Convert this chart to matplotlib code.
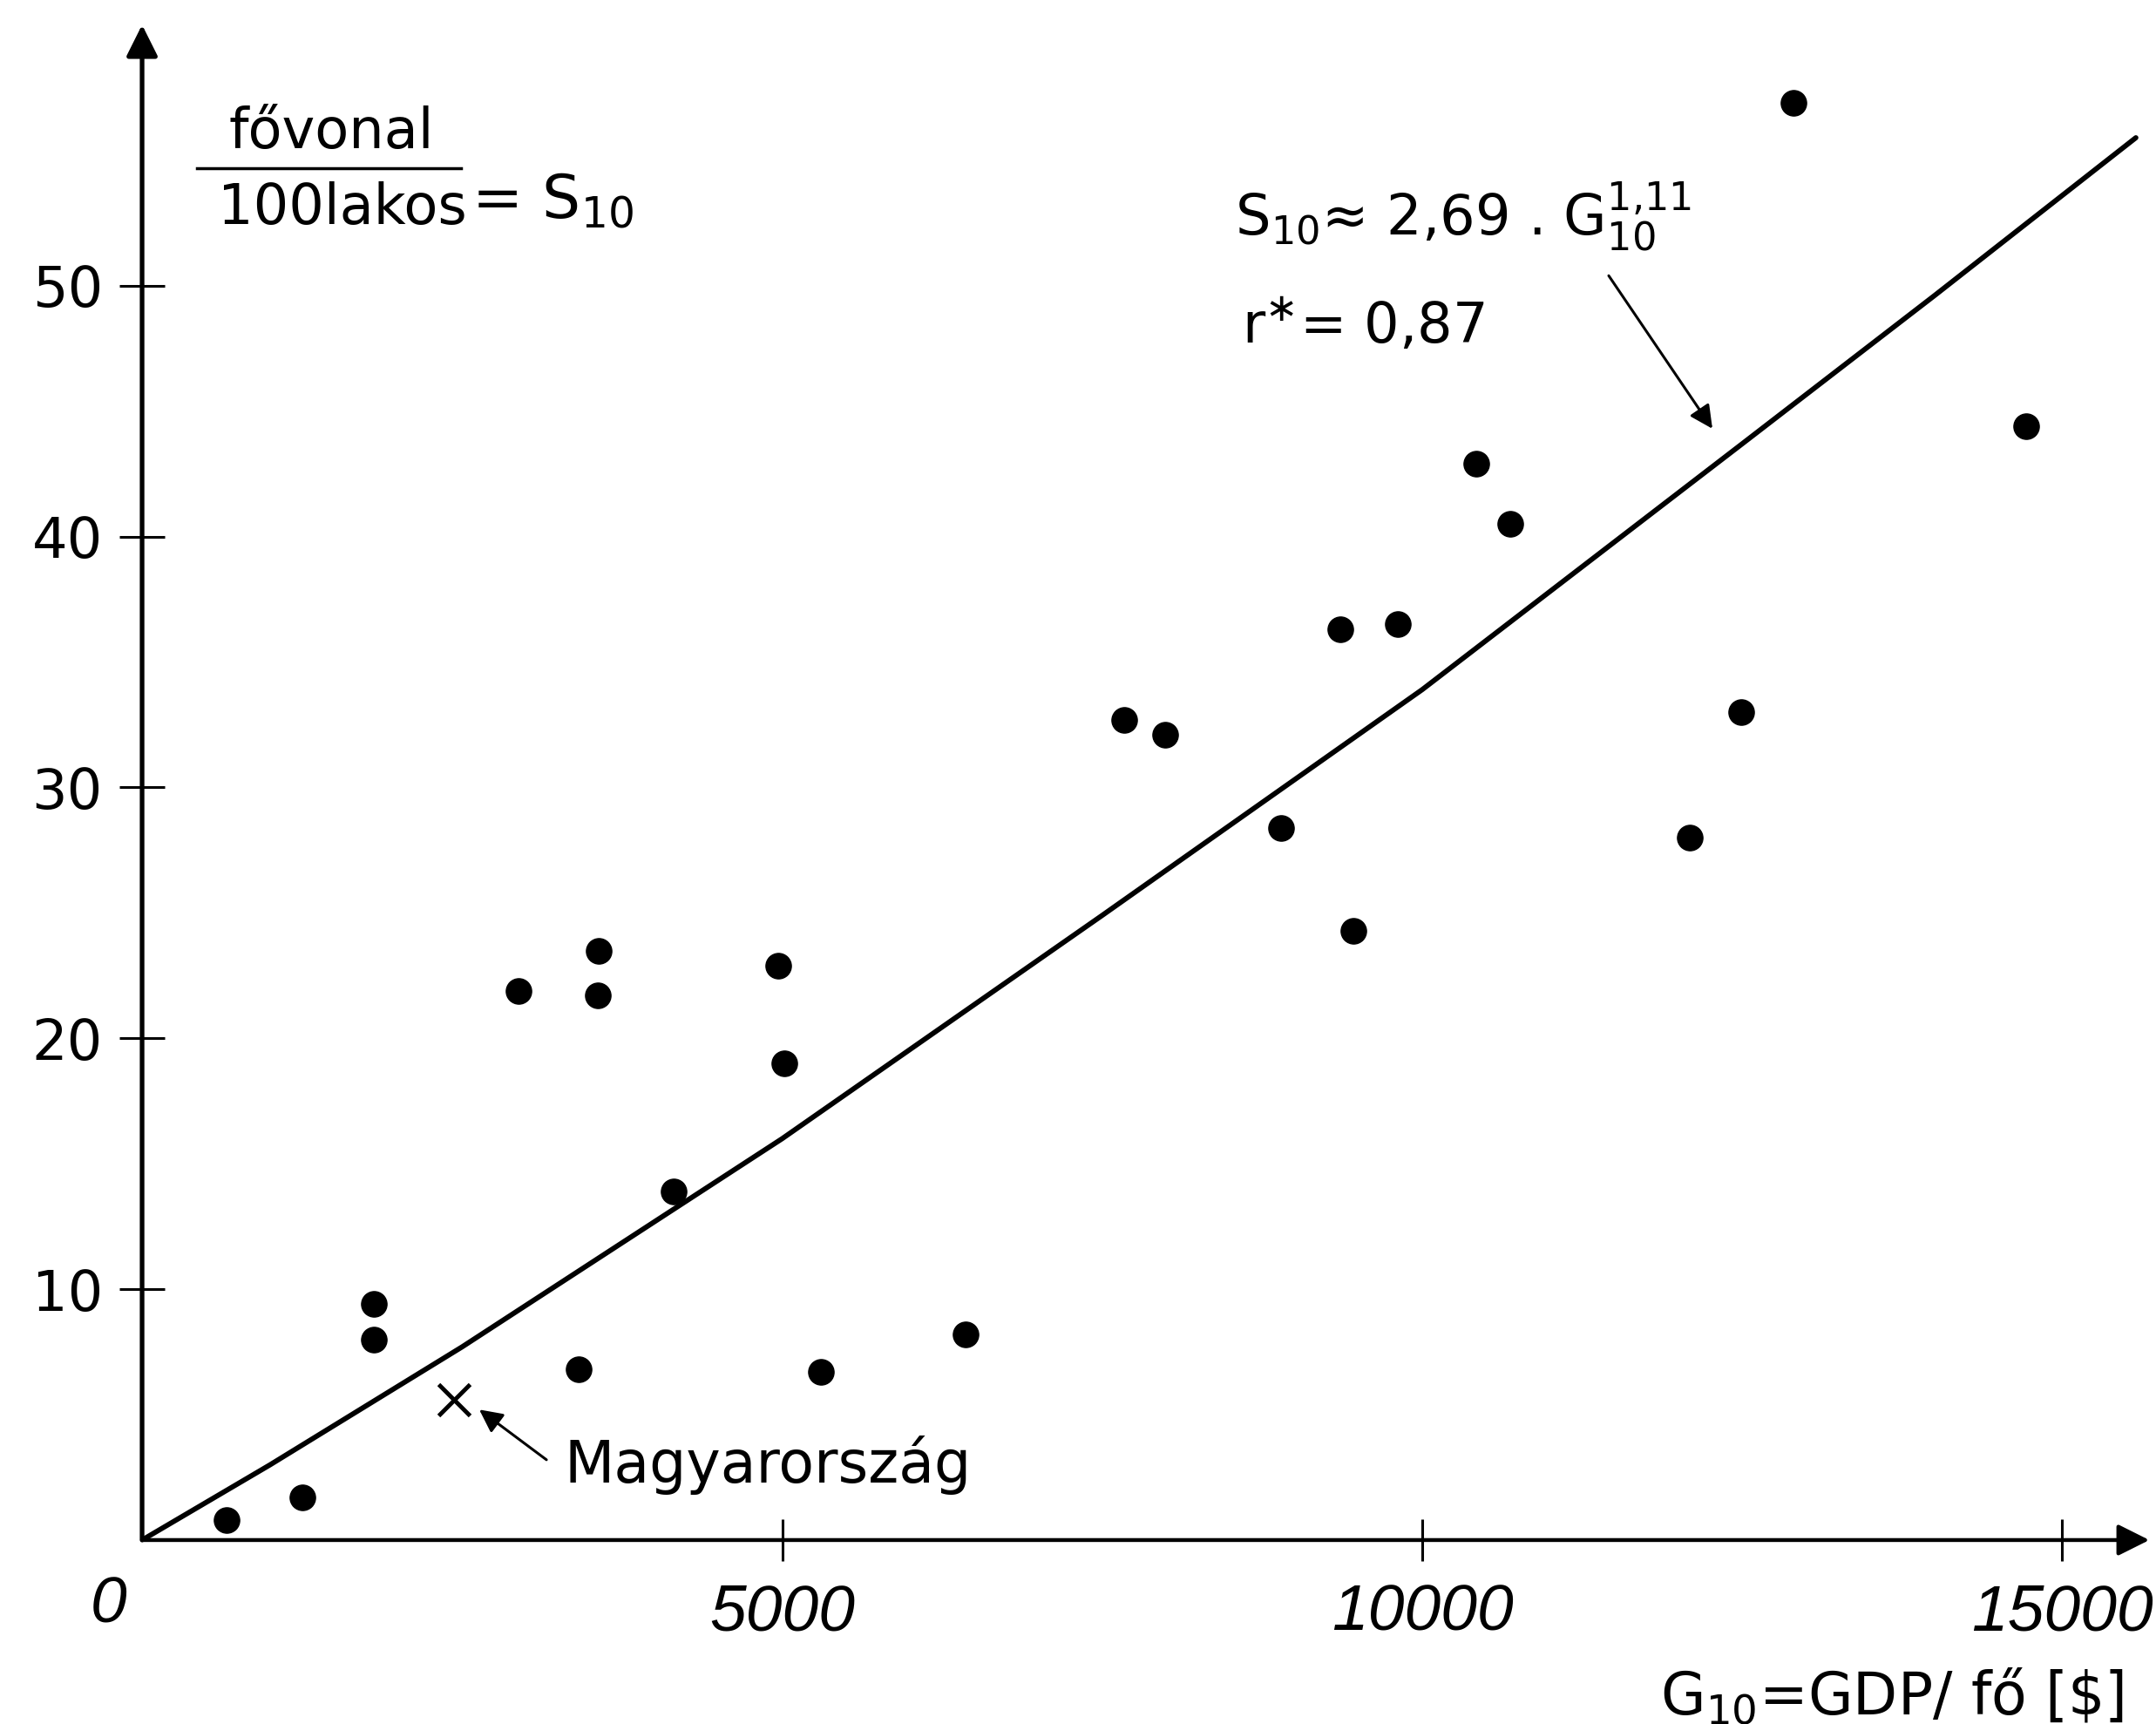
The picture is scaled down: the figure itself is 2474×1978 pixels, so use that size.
import matplotlib.pyplot as plt

# országok: GDP/fő [$] és fővonal / 100 lakos (leolvasva)
gdp = [660, 1250, 1810, 1810, 2940, 3570, 3560, 3410, 4150, 4970, 5020, 5300,
       6430, 7670, 7990, 8900, 9360, 9460, 9810, 10420, 10690, 12090, 12490,
       12900, 14720]
s10 = [0.8, 1.7, 9.4, 8.0, 21.9, 23.5, 21.7, 6.8, 13.9, 22.9, 19.0, 6.7,
       8.2, 32.7, 32.1, 28.4, 36.3, 24.3, 36.5, 42.9, 40.5, 28.0, 33.0,
       57.3, 44.4]

hu_gdp = [2440]
hu_s10 = [5.6]

# kézzel rajzolt regressziós görbe pontjai
fit_g = [0, 1000, 2500, 5000, 7500, 10000, 12500, 14000, 15575]
fit_s = [0, 3.0, 7.7, 16.0, 24.9, 33.9, 43.7, 49.6, 55.9]

xticks = [5000, 10000, 15000]
xticklabels = ['5000', '10000', '15000']
yticks = [10, 20, 30, 40, 50]
yticklabels = ['10', '20', '30', '40', '50']

XMAX = 15680
YMAX = 60.4

fig = plt.figure(figsize=(24.74, 19.78), dpi=100)
ax = fig.add_axes([0.0659, 0.1067, 0.9310, 0.8789])
ax.set_xlim(0, XMAX)
ax.set_ylim(0, YMAX)

for sp in ax.spines.values():
    sp.set_visible(False)

# tengelyek nyíllal
ax.annotate('', xy=(0, YMAX), xytext=(0, 0), annotation_clip=False,
            arrowprops=dict(arrowstyle='-|>', lw=3.8, color='k', mutation_scale=55,
                            shrinkA=0, shrinkB=0))
ax.annotate('', xy=(XMAX, 0), xytext=(0, 0), annotation_clip=False,
            arrowprops=dict(arrowstyle='-|>', lw=3.2, color='k', mutation_scale=55,
                            shrinkA=0, shrinkB=0))

ax.set_xticks(xticks)
ax.set_xticklabels(xticklabels, fontfamily='Liberation Sans', fontstyle='italic',
                   fontsize=54)
ax.set_yticks(yticks)
ax.set_yticklabels(yticklabels, fontfamily='DejaVu Sans', fontsize=46)
ax.tick_params(axis='x', direction='inout', length=35, width=2.2, pad=18)
ax.tick_params(axis='y', direction='inout', length=37, width=2.2, pad=14)

ax.text(-260, -2.6, '0', fontfamily='Liberation Sans', fontstyle='italic',
        fontsize=54, ha='center', va='center', clip_on=False)

# regressziós görbe és pontok
ax.plot(fit_g, fit_s, color='k', lw=4.2, solid_capstyle='round',
        solid_joinstyle='round')
ax.plot(gdp, s10, 'o', color='k', ms=21, clip_on=False)
ax.plot(hu_gdp, hu_s10, 'x', color='k', ms=26, mew=3.5)

# Magyarország felirat
ax.annotate('', xy=(2634, 5.2), xytext=(3159, 3.2),
            arrowprops=dict(arrowstyle='-|>', lw=2.2, color='k', mutation_scale=40,
                            shrinkA=0, shrinkB=0))
ax.text(3295, 2.3, 'Magyarország', fontsize=48, ha='left', va='baseline')

# képlet
ax.text(8537, 52.0, 'S$_{10}$≈ 2,69 . G$_{10}^{1{,}11}$', fontsize=46,
        ha='left', va='baseline')
ax.text(8591, 47.7, 'r$^{\\ast}$= 0,87', fontsize=46, ha='left', va='baseline')
ax.annotate('', xy=(12267, 44.3), xytext=(11457, 50.4),
            arrowprops=dict(arrowstyle='-|>', lw=2.2, color='k', mutation_scale=40,
                            shrinkA=0, shrinkB=0))

# bal felső tört
ax.text(1477, 55.5, 'fővonal', fontsize=46, ha='center', va='baseline')
ax.plot([429, 2491], [54.7, 54.7], color='k', lw=2.5)
ax.text(1566, 53.1, '100lakos', fontsize=46, ha='center', va='center')
ax.text(2570, 53.4, '= S$_{10}$', fontsize=50, ha='left', va='center')

# x tengely felirat
ax.text(15480, -6.95, 'G$_{10}$=GDP/ fő [\\$]', fontsize=48, ha='right',
        va='baseline', clip_on=False)

fig.savefig('out.png', dpi=100)
